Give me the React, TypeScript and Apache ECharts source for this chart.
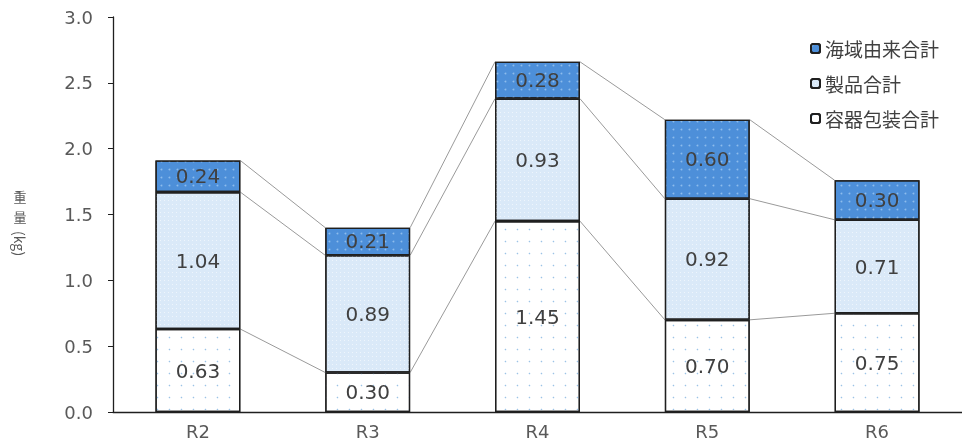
import React, { useEffect, useRef } from "react";
import * as echarts from "echarts";

const categories = ["R2", "R3", "R4", "R5", "R6"];
const containerValues = [0.63, 0.3, 1.45, 0.7, 0.75];
const productValues = [1.04, 0.89, 0.93, 0.92, 0.71];
const marineValues = [0.24, 0.21, 0.28, 0.6, 0.3];
const seriesNames = ["容器包装合計", "製品合計", "海域由来合計"];
const legendOrder = ["海域由来合計", "製品合計", "容器包装合計"];
const yTicks = { min: 0, max: 3, interval: 0.5 };

const NUM_FONT = "'DejaVu Sans', 'Noto Sans', sans-serif";
const CJK_FONT = "'Noto Sans CJK JP', 'Noto Sans', sans-serif";

export default function App() {
  const ref = useRef<HTMLDivElement>(null);
  useEffect(() => {
    if (!ref.current) return;
    const chart = echarts.init(ref.current, null, { renderer: "svg" });
    const cum = categories.map((_, i) => {
      const a = containerValues[i];
      const b = a + productValues[i];
      const c = b + marineValues[i];
      return [i, a, b, c];
    });
    const label = {
      show: true,
      position: "inside",
      color: "#404040",
      fontSize: 20,
      fontFamily: NUM_FONT,
      formatter: (p: any) => Number(p.value).toFixed(2),
    };
    const border = { borderColor: "#1f1f1f", borderWidth: 1.3 };
    const nameStyle = { fontSize: 13, lineHeight: 15, fill: "#595959", fontFamily: CJK_FONT };
    chart.setOption({
      animation: false,
      textStyle: { fontFamily: NUM_FONT },
      grid: { left: 113, top: 17, bottom: 34, width: 862 },
      legend: {
        data: legendOrder,
        orient: "vertical",
        left: 805,
        top: 34,
        itemWidth: 9,
        itemHeight: 9,
        itemGap: 16,
        textStyle: { fontSize: 19, color: "#404040", fontFamily: CJK_FONT },
      },
      xAxis: {
        type: "category",
        data: categories,
        axisLine: { lineStyle: { color: "#1f1f1f", width: 1.3 } },
        axisTick: { show: false },
        axisLabel: { fontSize: 18, color: "#595959", margin: 10, fontFamily: NUM_FONT },
      },
      yAxis: {
        type: "value",
        min: yTicks.min,
        max: yTicks.max,
        interval: yTicks.interval,
        axisLine: { show: true, lineStyle: { color: "#1f1f1f", width: 1.3 } },
        axisTick: { show: true, length: 5, lineStyle: { color: "#1f1f1f" } },
        splitLine: { show: false },
        axisLabel: {
          fontSize: 18,
          color: "#595959",
          margin: 20,
          fontFamily: NUM_FONT,
          formatter: (v: number) => v.toFixed(1),
        },
      },
      graphic: [
        {
          type: "text",
          x: 20,
          y: 189,
          style: { ...nameStyle, text: "重", align: "center", verticalAlign: "top" },
        },
        {
          type: "text",
          x: 20,
          y: 209,
          style: { ...nameStyle, text: "量", align: "center", verticalAlign: "top" },
        },
        {
          type: "text",
          x: 27,
          y: 231,
          rotation: -Math.PI / 2,
          style: { ...nameStyle, fontSize: 14, text: "(kg)", verticalAlign: "top" },
        },
      ],
      series: [
        {
          type: "custom",
          name: "lines",
          data: cum,
          z: 1,
          silent: true,
          encode: { x: 0, y: [1, 2, 3] },
          renderItem: (params: any, api: any) => {
            const i = api.value(0);
            if (i >= categories.length - 1) return null;
            const half = api.size([1, 0])[0] * 0.25;
            const children: any[] = [];
            for (let k = 1; k <= 3; k++) {
              const p1 = api.coord([i, api.value(k)]);
              const p2 = api.coord([i + 1, cum[i + 1][k]]);
              children.push({
                type: "line",
                shape: { x1: p1[0] + half, y1: p1[1], x2: p2[0] - half, y2: p2[1] },
                style: { stroke: "#9a9a9a", lineWidth: 1 },
              });
            }
            return { type: "group", children };
          },
        },
        {
          type: "bar",
          name: seriesNames[0],
          stack: "total",
          barWidth: "50%",
          data: containerValues,
          z: 2,
          label,
          itemStyle: {
            color: "#ffffff",
            ...border,
            decal: {
              symbol: "circle",
              symbolSize: 0.5,
              color: "#9cc3e6",
              dashArrayX: [[3, 9]],
              dashArrayY: [3, 9],
              rotation: 0,
            },
          },
        },
        {
          type: "bar",
          name: seriesNames[1],
          stack: "total",
          barWidth: "50%",
          data: productValues,
          z: 2,
          label,
          itemStyle: {
            color: "#dae9f8",
            ...border,
            decal: {
              symbol: "rect",
              symbolSize: 1,
              color: "rgba(255,255,255,0.55)",
              dashArrayX: [[1, 3]],
              dashArrayY: [1, 3],
              rotation: 0,
            },
          },
        },
        {
          type: "bar",
          name: seriesNames[2],
          stack: "total",
          barWidth: "50%",
          data: marineValues,
          z: 2,
          label,
          itemStyle: {
            color: "#4d8fd9",
            ...border,
            decal: {
              symbol: "circle",
              symbolSize: 0.6,
              color: "#8dbcec",
              dashArrayX: [[3, 5]],
              dashArrayY: [3, 5],
              rotation: 0,
            },
          },
        },
      ],
    });
    return () => chart.dispose();
  }, []);
  return (
    <div
      ref={ref}
      style={{ position: "fixed", left: 0, top: 0, width: 962, height: 446 }}
    />
  );
}
